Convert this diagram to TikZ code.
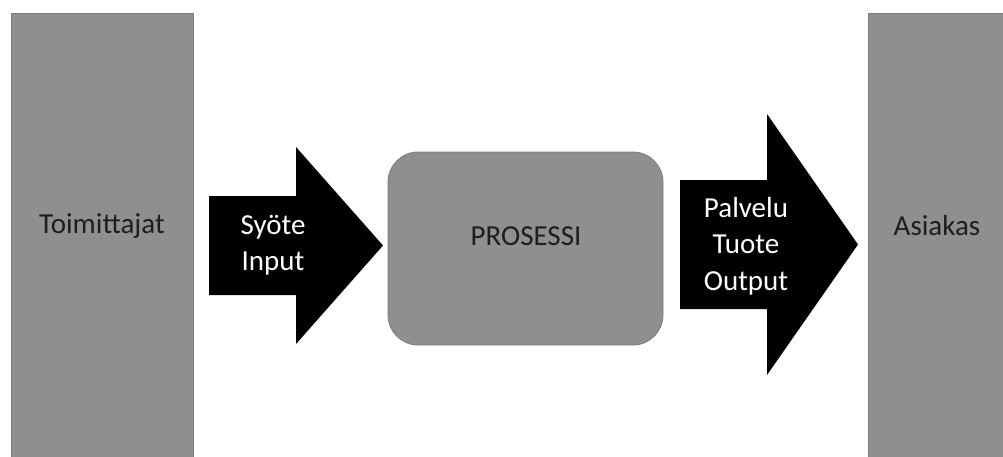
\documentclass[tikz,border=0pt]{standalone}
\usepackage{fontspec}
\setmainfont{Carlito}
\definecolor{blockgray}{RGB}{143,143,143}
\definecolor{blockedge}{RGB}{125,125,125}
\definecolor{labeltext}{RGB}{30,30,30}
\tikzset{
  block/.style={fill=blockgray, draw=blockedge, line width=0.8pt},
  flow/.style={fill=black},
  darklabel/.style={text=labeltext, font=\fontsize{29}{36.5}\selectfont, align=center, inner sep=0pt},
  lightlabel/.style={text=white, font=\fontsize{29}{36.5}\selectfont, align=center, inner sep=0pt},
}
\begin{document}
\begin{tikzpicture}[x=1pt, y=-1pt]
  \clip (0,0) rectangle (1003,456);
  \fill[white] (0,0) rectangle (1003,456);

  % suppliers and customer columns
  \draw[block] (11,13) rectangle (193,470);
  \draw[block] (868,13) rectangle (1010,470);
  \node[darklabel] (supp) at (102,226) {Toimittajat};
  \node[darklabel] (cust) at (937,226) {Asiakas};

  % process box
  \draw[block, rounded corners=30pt] (388,152) rectangle (663,345);
  \node[darklabel] (proc) at (526,236) {PROSESSI};

  % input block arrow
  \fill[flow] (209,196) -- (296,196) -- (296,147) -- (383,245.5)
              -- (296,344) -- (296,295) -- (209,295) -- cycle;
  \node[lightlabel] (inp) at (273,245) {Syöte\\Input};

  % output block arrow
  \fill[flow] (680,180) -- (767,180) -- (767,114) -- (858,244.5)
              -- (767,375) -- (767,309) -- (680,309) -- cycle;
  \node[lightlabel] (outp) at (746,246) {Palvelu\\Tuote\\Output};
\end{tikzpicture}
\end{document}
